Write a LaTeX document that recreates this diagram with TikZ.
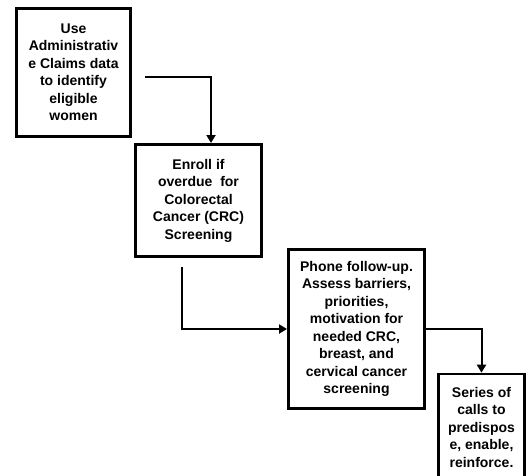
\documentclass[tikz,border=0pt]{standalone}
\usepackage{fontspec}
\setmainfont{Liberation Sans}
\usetikzlibrary{arrows.meta}

\begin{document}
\begin{tikzpicture}[x=1pt, y=-1pt,
  box/.style={draw, line width=2.6pt, inner sep=0pt, align=center,
    font=\fontsize{14}{17.5}\selectfont\bfseries},
  flow/.style={line width=2pt, -{Triangle[length=8pt, width=9pt]}}]
\useasboundingbox (0,0) rectangle (527,476);

\node[box, minimum width=114.4pt, minimum height=128.4pt] (claims) at (73.5,72.5)
  {Use\\Administrativ\\e Claims data\\to identify\\eligible\\women};
\node[box, minimum width=126.4pt, minimum height=112.4pt] (enroll) at (198.5,200.5)
  {Enroll if\\overdue\ \ for\\Colorectal\\Cancer (CRC)\\Screening};
\node[box, minimum width=136.4pt, minimum height=159.4pt] (phone) at (356.5,329)
  {Phone follow-up.\\Assess barriers,\\priorities,\\motivation for\\needed CRC,\\breast, and\\cervical cancer\\screening};
\node[box, minimum width=86.4pt, minimum height=106pt] (calls) at (481.5,427)
  {Series of\\calls to\\predispos\\e, enable,\\reinforce.};

\coordinate (s1) at (145,77);
\coordinate (s2) at (182,267);

\draw[flow] (s1) -| ([xshift=12.5pt]enroll.north);
\draw[flow] (s2) |- (phone.west);
\draw[flow] (phone.east) -| (calls.north);
\end{tikzpicture}
\end{document}
